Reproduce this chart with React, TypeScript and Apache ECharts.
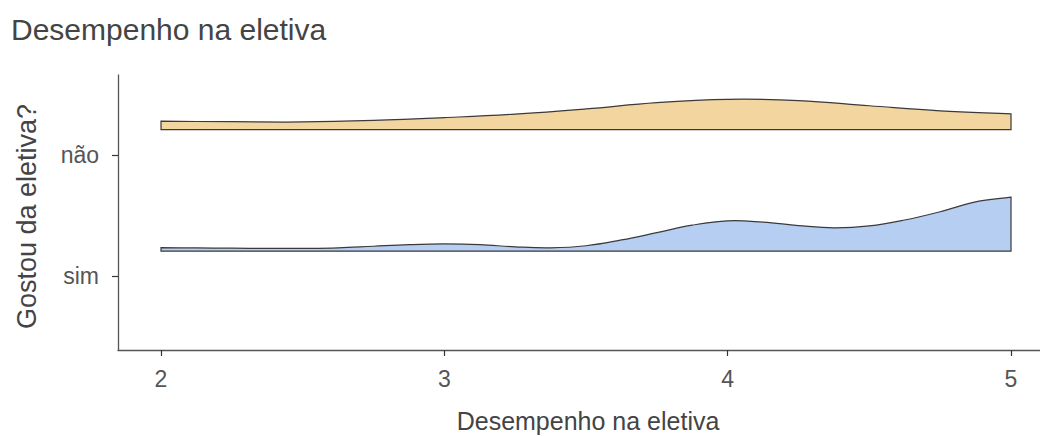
import React, { useEffect, useRef } from "react";
import * as echarts from "echarts";

const TITLE = "Desempenho na eletiva";
const X_TITLE = "Desempenho na eletiva";
const Y_TITLE = "Gostou da eletiva?";
const CATEGORIES = ["sim", "não"]; // y positions 1 and 2
const X_TICKS = [2, 3, 4, 5];
const Y_TICKS = [1, 2];

// ridge baselines (in y units)
const BASE_SIM = 1.205;
const BASE_NAO = 2.21;

// density heights (y units) for "não"
const NAO_X = [2, 2.25, 2.5, 2.75, 3, 3.25, 3.5, 3.75, 4, 4.25, 4.5, 4.75, 5];
const NAO_H = [0.069, 0.065, 0.063, 0.076, 0.099, 0.128, 0.171, 0.223, 0.25, 0.24, 0.197, 0.155, 0.13];

// density heights (y units) for "sim"
const SIM_X = [
  2, 2.125, 2.25, 2.375, 2.5, 2.625, 2.75, 2.875, 3, 3.125, 3.25, 3.375, 3.5,
  3.625, 3.75, 3.875, 4, 4.125, 4.25, 4.375, 4.5, 4.625, 4.75, 4.875, 5,
];
const SIM_H = [
  0.029, 0.027, 0.025, 0.023, 0.023, 0.027, 0.041, 0.054, 0.06, 0.054, 0.036,
  0.028, 0.045, 0.093, 0.153, 0.215, 0.251, 0.24, 0.212, 0.193, 0.209, 0.258,
  0.326, 0.407, 0.446,
];

const FILL_NAO = "#F3D5A0";
const FILL_SIM = "#B6CEF2";
const FONT = "'Liberation Sans', Arial, Helvetica, sans-serif";

function ridgeSeries(name: string, xs: number[], hs: number[], base: number, fill: string) {
  return {
    name,
    type: "custom",
    coordinateSystem: "cartesian2d",
    clip: false,
    silent: true,
    data: [[xs[0], base]],
    renderItem: (_params: any, api: any) => {
      const top = xs.map((x, i) => api.coord([x, base + hs[i]]));
      const bR = api.coord([xs[xs.length - 1], base]);
      const bL = api.coord([xs[0], base]);
      const n = top.length;
      const pts = [
        top[0],
        top[0],
        ...top.slice(1, n - 1),
        top[n - 1],
        top[n - 1],
        bR,
        bR,
        bL,
        bL,
      ];
      return {
        type: "polygon",
        shape: { points: pts, smooth: 0.4 },
        style: { fill, stroke: "#3a3a3a", lineWidth: 1.2 },
      };
    },
  };
}

export default function App() {
  const ref = useRef<HTMLDivElement>(null);

  useEffect(() => {
    document.body.style.margin = "0";
    if (!ref.current) return;
    const chart = echarts.init(ref.current, null, { renderer: "svg" });
    const option: any = {
      animation: false,
      backgroundColor: "#ffffff",
      title: {
        text: TITLE,
        left: 11,
        top: 14,
        padding: 0,
        textStyle: {
          fontFamily: FONT,
          fontSize: 30,
          lineHeight: 30,
          fontWeight: "normal",
          color: "#444444",
        },
      },
      grid: { left: 118, right: 0, top: 75, bottom: 86, containLabel: false },
      xAxis: {
        type: "value",
        min: 1.8482,
        max: 5.1023,
        splitLine: { show: false },
        axisLine: { show: true, lineStyle: { color: "#555555", width: 1.3 } },
        axisTick: {
          show: true,
          customValues: X_TICKS,
          length: 6,
          lineStyle: { color: "#333333", width: 1.2 },
        },
        axisLabel: {
          customValues: X_TICKS,
          margin: 17,
          fontFamily: FONT,
          fontSize: 23,
          lineHeight: 24,
          color: "#555555",
          formatter: (v: number) => String(v),
        },
      },
      yAxis: {
        type: "value",
        min: 0.3884,
        max: 2.661,
        splitLine: { show: false },
        axisLine: { show: true, lineStyle: { color: "#555555", width: 1.3 } },
        axisTick: {
          show: true,
          customValues: Y_TICKS,
          length: 6,
          lineStyle: { color: "#333333", width: 1.2 },
        },
        axisLabel: {
          customValues: Y_TICKS,
          margin: 19,
          fontFamily: FONT,
          fontSize: 23,
          color: "#555555",
          formatter: (v: number) => CATEGORIES[Math.round(v) - 1] ?? "",
        },
      },
      graphic: [
        {
          type: "text",
          x: 588,
          y: 421,
          silent: true,
          style: {
            text: X_TITLE,
            fontFamily: FONT,
            fontSize: 25,
            fill: "#444444",
            textAlign: "center",
            textVerticalAlign: "middle",
          },
        },
        {
          type: "text",
          x: 26.5,
          y: 216.5,
          rotation: Math.PI / 2,
          silent: true,
          style: {
            text: Y_TITLE,
            fontFamily: FONT,
            fontSize: 27,
            fill: "#444444",
            textAlign: "center",
            textVerticalAlign: "middle",
          },
        },
      ],
      series: [
        ridgeSeries("sim", SIM_X, SIM_H, BASE_SIM, FILL_SIM),
        ridgeSeries("não", NAO_X, NAO_H, BASE_NAO, FILL_NAO),
      ],
    };
    chart.setOption(option);
    return () => chart.dispose();
  }, []);

  return <div ref={ref} style={{ width: 1040, height: 436 }} />;
}
